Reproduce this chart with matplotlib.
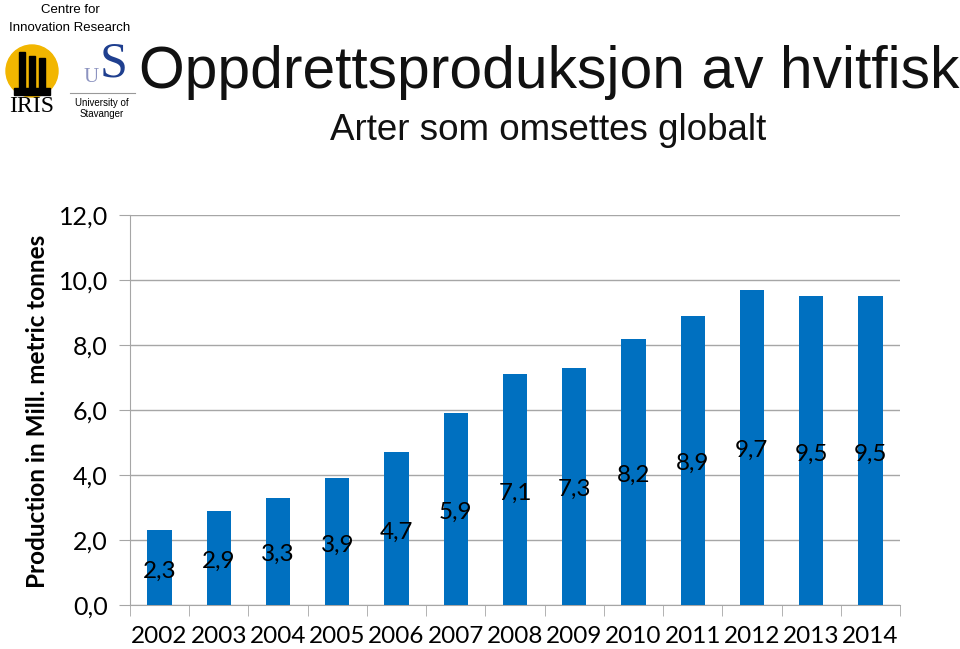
import numpy as np
import matplotlib.pyplot as plt
from matplotlib.patches import Circle, Rectangle

years = ["2002", "2003", "2004", "2005", "2006", "2007", "2008",
         "2009", "2010", "2011", "2012", "2013", "2014"]
production = [2.3, 2.9, 3.3, 3.9, 4.7, 5.9, 7.1, 7.3, 8.2, 8.9, 9.7, 9.5, 9.5]
yticks = [0, 2, 4, 6, 8, 10, 12]

barcolor = "#0070C0"
gridcolor = "#A6A6A6"
body = "Lato"

fig = plt.figure(figsize=(9.6, 6.49), dpi=100)
ax = fig.add_axes([130/960, 1-605/649, 770/960, 390/649])

x = np.arange(len(years))
ax.bar(x, production, width=0.41, color=barcolor, zorder=3)

for xi, v in zip(x, production):
    ax.text(xi, v/2 - 0.1, ("%.1f" % v).replace(".", ","), ha="center", va="center",
            fontsize=17.5, family=body, color="black", zorder=4)

ax.set_xlim(-0.5, len(years) - 0.5)
ax.set_ylim(0, 12)
ax.set_yticks(yticks)
ax.set_yticklabels([("%.1f" % t).replace(".", ",") for t in yticks], family=body, fontsize=18)
ax.set_xticks(x)
ax.set_xticklabels(years, family=body, fontsize=17.5)
ax.set_xticks(np.arange(-0.5, len(years)), minor=True)
ax.tick_params(axis="x", which="major", length=0, pad=15)
ax.tick_params(axis="x", which="minor", length=8, color=gridcolor, direction="out")
ax.tick_params(axis="y", length=8, color=gridcolor, direction="out", pad=8)

ax.grid(axis="y", color=gridcolor, linewidth=1, zorder=0)
for s in ["top", "right"]:
    ax.spines[s].set_visible(False)
for s in ["left", "bottom"]:
    ax.spines[s].set_color(gridcolor)

fig.text(38/960, 1-411/649, "Production in Mill. metric tonnes", rotation=90,
         ha="center", va="center", fontsize=17.5, fontweight="bold", family=body)

fig.text(549/960, 1-72/649, "Oppdrettsproduksjon av hvitfisk", ha="center", va="center",
         fontsize=42.3, family="Liberation Sans", color="#111111")
fig.text(548/960, 1-131/649, "Arter som omsettes globalt", ha="center", va="center",
         fontsize=26.5, family="Liberation Sans", color="#111111")

# logo block (approximation)
fig.text(70/960, 1-10/649, "Centre for", ha="center", va="center", fontsize=9.5,
         family="Liberation Sans")
fig.text(70/960, 1-28/649, "Innovation Research", ha="center", va="center", fontsize=9.5,
         family="Liberation Sans")
lax = fig.add_axes([0, 0, 1, 1], zorder=-1)
lax.set_xlim(0, 960)
lax.set_ylim(649, 0)
lax.axis("off")
lax.add_patch(Circle((32, 71), 26, color="#F2B600"))
for cx, top in [(22, 52), (32, 56), (42, 58)]:
    lax.add_patch(Rectangle((cx - 3, top), 6, 93 - top, color="black"))
lax.add_patch(Rectangle((14, 88), 36, 7, color="black"))
fig.text(32/960, 1-106/649, "IRIS", ha="center", va="center", fontsize=17,
         family="Liberation Serif")
fig.text(91/960, 1-77/649, "U", ha="center", va="center", fontsize=15,
         family="Liberation Serif", color="#8C93C0")
fig.text(114/960, 1-64/649, "S", ha="center", va="center", fontsize=36,
         family="Liberation Serif", color="#1F3F8F")
lax.plot([70, 135], [93, 93], color="#999999", lw=0.8)
fig.text(102/960, 1-103/649, "University of", ha="center", va="center", fontsize=7,
         family="Liberation Sans")
fig.text(102/960, 1-114/649, "Stavanger", ha="center", va="center", fontsize=7,
         family="Liberation Sans")

fig.savefig("out.png", dpi=100)
